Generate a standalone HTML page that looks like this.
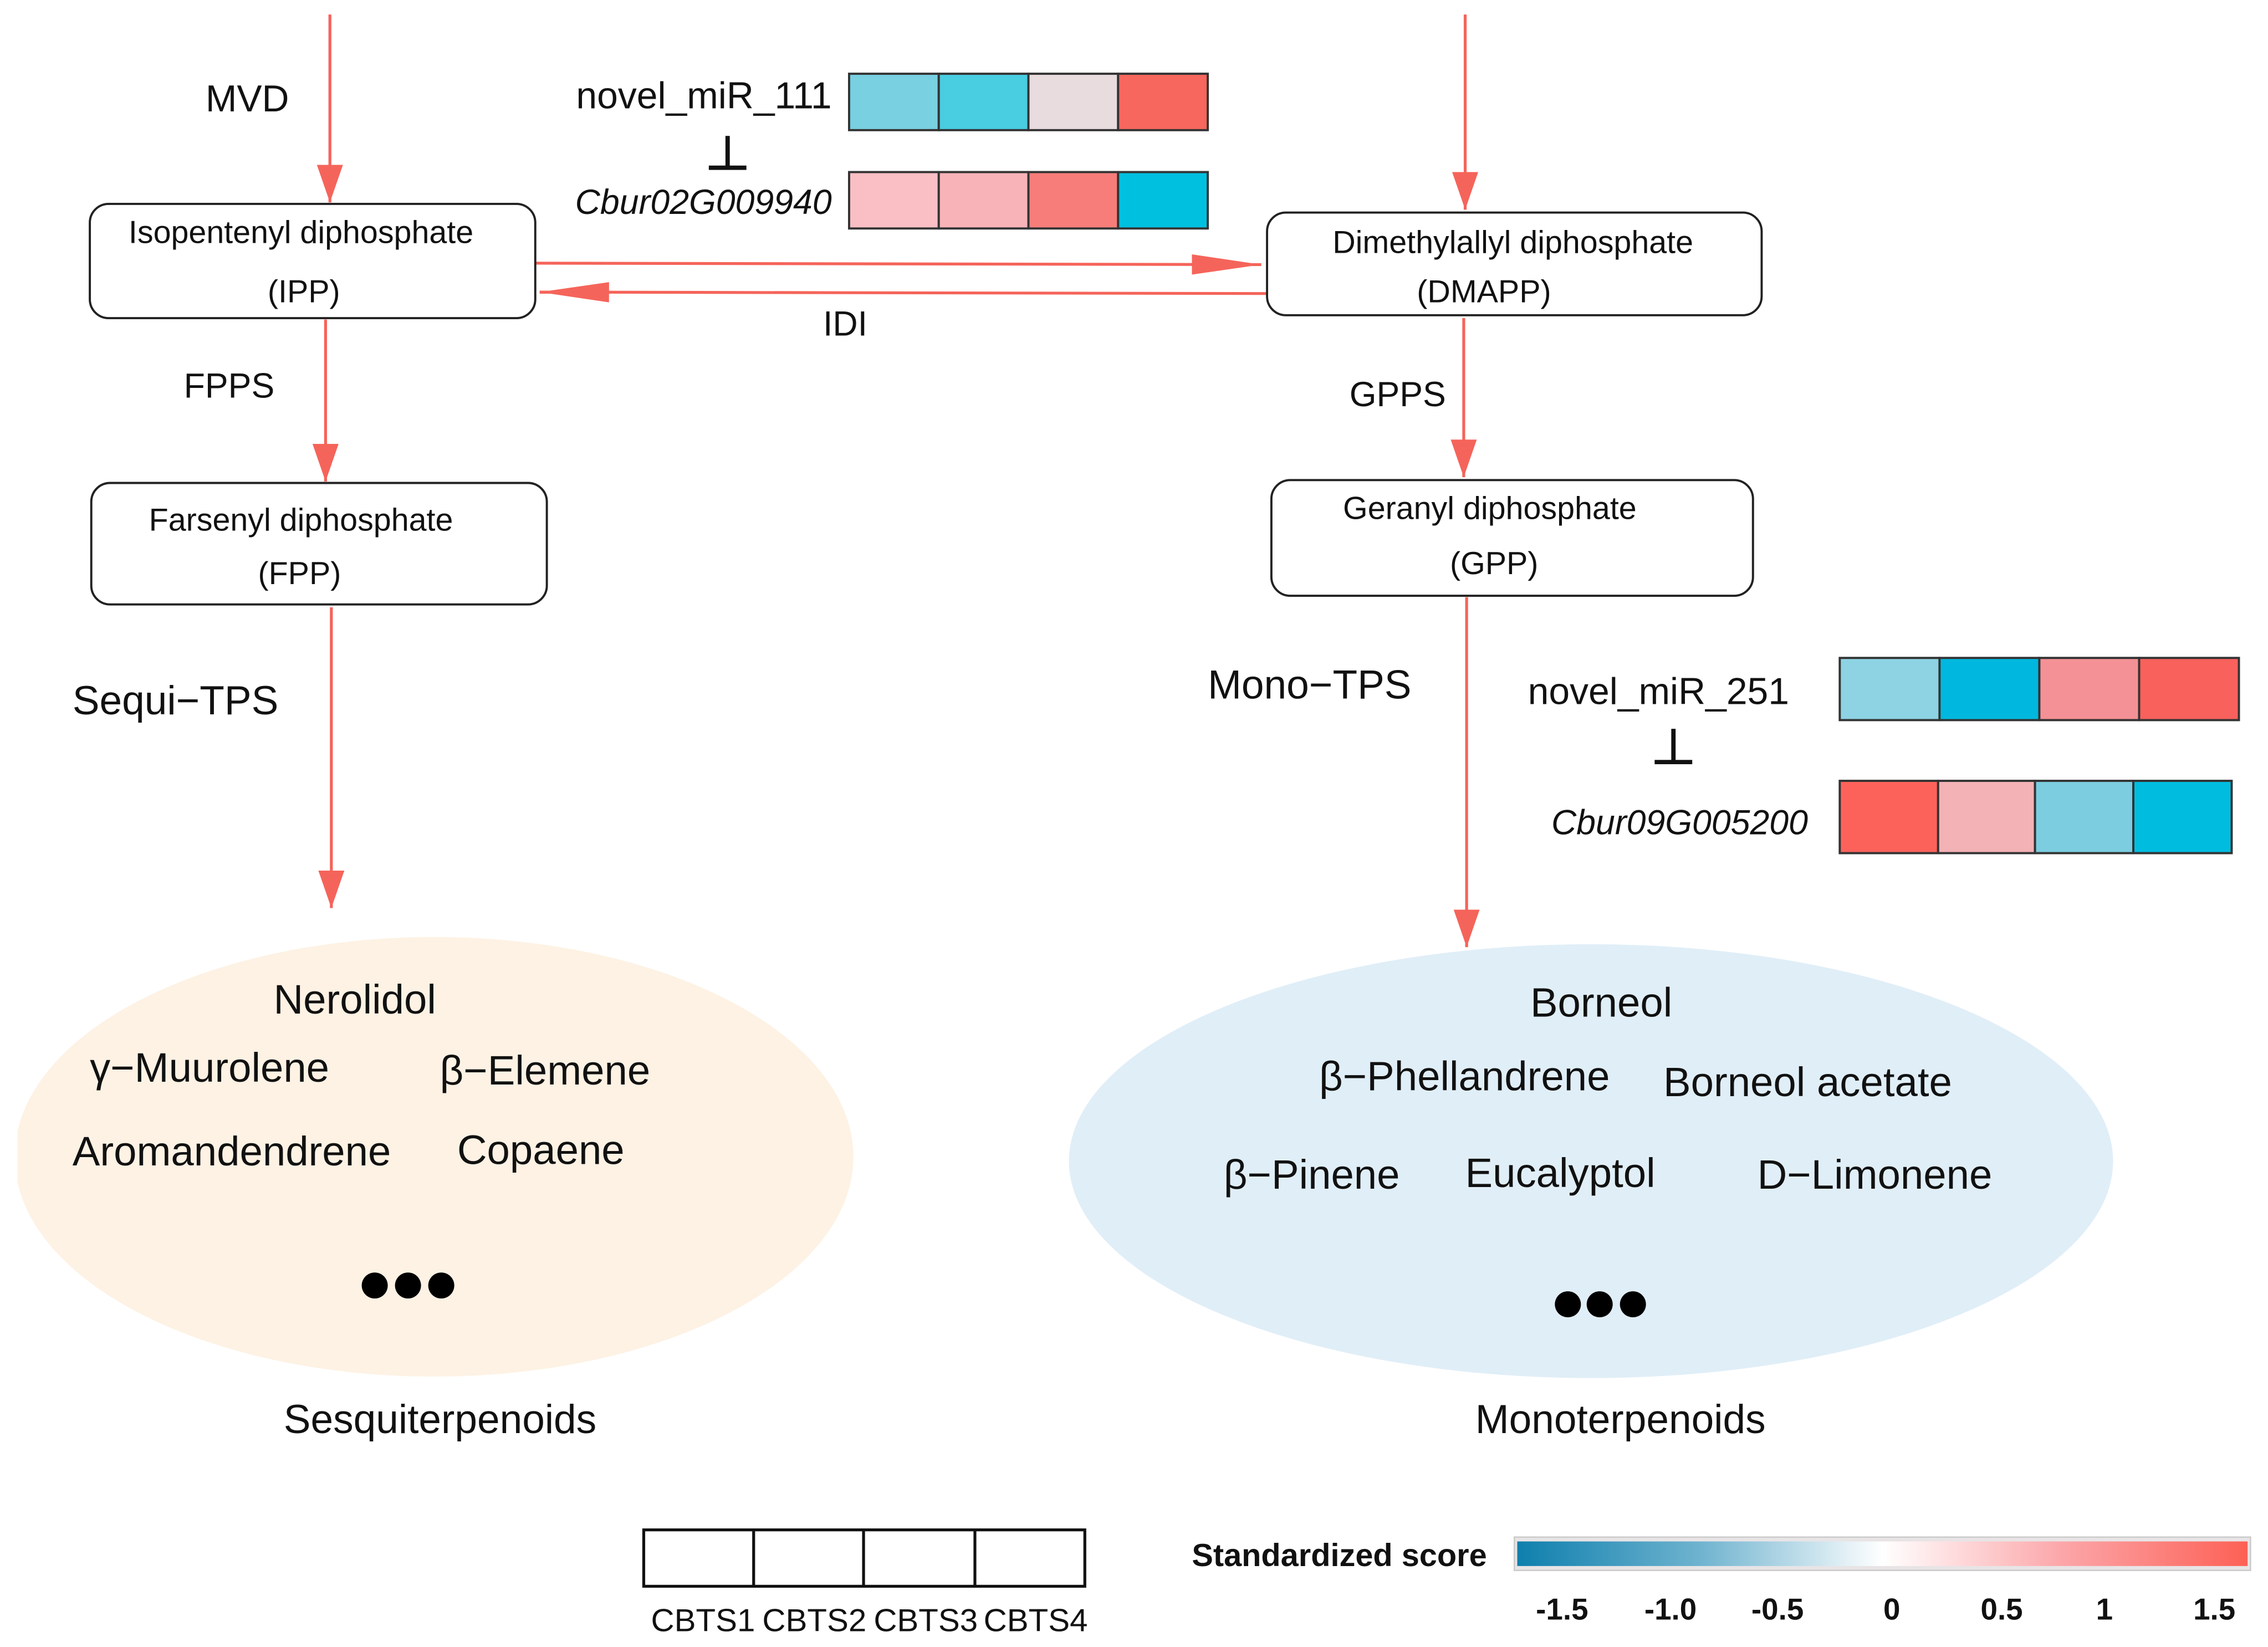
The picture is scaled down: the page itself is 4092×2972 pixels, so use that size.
<!DOCTYPE html>
<html><head><meta charset="utf-8"><style>
html,body{margin:0;padding:0;background:#fff;}
svg{display:block;}
text{font-family:"Liberation Sans",sans-serif;fill:#111;}
</style></head><body>
<svg width="4092" height="2972" viewBox="0 0 1568 1139" xmlns="http://www.w3.org/2000/svg">
<defs>
<marker id="ahv" markerWidth="26" markerHeight="18" refX="26" refY="9" orient="auto" markerUnits="userSpaceOnUse" viewBox="0 0 26 18">
<path d="M0,0 L26,9 L0,18 z" fill="#f5645a"/></marker>
<marker id="ahh" markerWidth="48" markerHeight="14" refX="48" refY="7" orient="auto" markerUnits="userSpaceOnUse" viewBox="0 0 48 14">
<path d="M0,0 L48,7 L0,14 z" fill="#f5645a"/></marker>
<linearGradient id="g" x1="0" x2="1" y1="0" y2="0">
<stop offset="0" stop-color="#0e7fad"/><stop offset="0.25" stop-color="#6fb3cf"/><stop offset="0.5" stop-color="#ffffff"/><stop offset="0.75" stop-color="#fca5a8"/><stop offset="1" stop-color="#fd6055"/>
</linearGradient>
<clipPath id="cl"><rect x="12" y="0" width="1556" height="1139"/></clipPath>
</defs>
<g stroke="#f5645a" stroke-width="2" fill="none">
<line x1="228" y1="10" x2="228" y2="140" marker-end="url(#ahv)"/>
<line x1="1013" y1="10" x2="1013" y2="145" marker-end="url(#ahv)"/>
<line x1="370" y1="182" x2="872" y2="183" marker-end="url(#ahh)"/>
<line x1="876" y1="203" x2="373" y2="202" marker-end="url(#ahh)"/>
<line x1="225" y1="221" x2="225" y2="333" marker-end="url(#ahv)"/>
<line x1="1012" y1="220" x2="1012" y2="330" marker-end="url(#ahv)"/>
<line x1="229" y1="420" x2="229" y2="628" marker-end="url(#ahv)"/>
<line x1="1014" y1="413" x2="1014" y2="655" marker-end="url(#ahv)"/>
</g>
<g fill="#fff" stroke="#222" stroke-width="1.5">
<rect x="62" y="141" width="308" height="79" rx="13"/>
<rect x="876" y="147" width="342" height="71" rx="13"/>
<rect x="63" y="334" width="315" height="84" rx="13"/>
<rect x="879" y="332" width="333" height="80" rx="13"/>
</g>
<g font-size="22" text-anchor="middle">
<text x="208" y="168">Isopentenyl diphosphate</text><text x="210" y="209">(IPP)</text>
<text x="1046" y="175">Dimethylallyl diphosphate</text><text x="1026" y="209">(DMAPP)</text>
<text x="208" y="367">Farsenyl diphosphate</text><text x="207" y="404">(FPP)</text>
<text x="1030" y="359">Geranyl diphosphate</text><text x="1033" y="397">(GPP)</text>
</g>
<g font-size="26">
<text x="142" y="77">MVD</text>
<text x="569" y="232" font-size="24">IDI</text>
<text x="127" y="275" font-size="24">FPPS</text>
<text x="933" y="281" font-size="24">GPPS</text>
<text x="50" y="494" font-size="28">Sequi−TPS</text>
<text x="835" y="483" font-size="28">Mono−TPS</text>
</g>
<g font-size="26" text-anchor="end">
<text x="575" y="75">novel_miR_111</text>
<text x="575" y="148" font-style="italic" font-size="24">Cbur02G009940</text>
<text x="1237" y="487">novel_miR_251</text>
<text x="1250" y="577" font-style="italic" font-size="24">Cbur09G005200</text>
</g>
<g stroke="#111" stroke-width="3">
<line x1="503" y1="94" x2="503" y2="116"/><line x1="490" y1="116" x2="516" y2="116"/>
<line x1="1157" y1="504" x2="1157" y2="527"/><line x1="1144" y1="527" x2="1170" y2="527"/>
</g>
<g stroke="#333" stroke-width="1.5">
<rect x="587" y="51" width="62" height="39" fill="#78d0e0"/><rect x="649" y="51" width="62" height="39" fill="#49cde0"/><rect x="711" y="51" width="62" height="39" fill="#e8dcdf"/><rect x="773" y="51" width="62" height="39" fill="#f7675d"/>
<rect x="587" y="119" width="62" height="39" fill="#f9bfc4"/><rect x="649" y="119" width="62" height="39" fill="#f8b3b8"/><rect x="711" y="119" width="62" height="39" fill="#f77d7a"/><rect x="773" y="119" width="62" height="39" fill="#00c0e0"/>
<rect x="1272" y="455" width="69" height="43" fill="#8dd3e3"/><rect x="1341" y="455" width="69" height="43" fill="#00b8df"/><rect x="1410" y="455" width="69" height="43" fill="#f49196"/><rect x="1479" y="455" width="69" height="43" fill="#f8615c"/>
<rect x="1272" y="540" width="68" height="50" fill="#fd625a"/><rect x="1340" y="540" width="67" height="50" fill="#f2b2b6"/><rect x="1407" y="540" width="68" height="50" fill="#7ccde0"/><rect x="1475" y="540" width="68" height="50" fill="#00bde0"/>
</g>
<ellipse cx="300" cy="800" rx="290" ry="152" fill="#fdf2e4" clip-path="url(#cl)"/>
<ellipse cx="1100" cy="803" rx="361" ry="150" fill="#e0eef7"/>
<g font-size="28.5">
<text x="189" y="701">Nerolidol</text>
<text x="62" y="748">γ−Muurolene</text>
<text x="304" y="750">β−Elemene</text>
<text x="50" y="806">Aromandendrene</text>
<text x="316" y="805">Copaene</text>
<text x="1058" y="703">Borneol</text>
<text x="912" y="754">β−Phellandrene</text>
<text x="1150" y="758">Borneol acetate</text>
<text x="846" y="822">β−Pinene</text>
<text x="1013" y="821">Eucalyptol</text>
<text x="1215" y="822">D−Limonene</text>
<text x="196" y="991" font-size="28">Sesquiterpenoids</text>
<text x="1020" y="991" font-size="28">Monoterpenoids</text>
</g>
<g fill="#000">
<circle cx="259" cy="889" r="9"/><circle cx="282" cy="889" r="9"/><circle cx="305" cy="889" r="9"/>
<circle cx="1084" cy="902" r="9"/><circle cx="1106" cy="902" r="9"/><circle cx="1129" cy="902" r="9"/>
</g>
<g stroke="#111" stroke-width="2" fill="none">
<rect x="445" y="1058" width="305" height="39"/>
<line x1="521" y1="1058" x2="521" y2="1097"/><line x1="597" y1="1058" x2="597" y2="1097"/><line x1="674" y1="1058" x2="674" y2="1097"/>
</g>
<g font-size="22" text-anchor="middle">
<text x="486" y="1128" textLength="72" lengthAdjust="spacingAndGlyphs">CBTS1</text>
<text x="563" y="1128" textLength="72" lengthAdjust="spacingAndGlyphs">CBTS2</text>
<text x="640" y="1128" textLength="72" lengthAdjust="spacingAndGlyphs">CBTS3</text>
<text x="716" y="1128" textLength="72" lengthAdjust="spacingAndGlyphs">CBTS4</text>
</g>
<text x="824" y="1083" font-size="22" font-weight="bold" textLength="204" lengthAdjust="spacingAndGlyphs">Standardized score</text>
<rect x="1047" y="1063" width="509" height="23" fill="#e8e4e6" stroke="#ccc"/>
<rect x="1049" y="1066" width="505" height="17" fill="url(#g)"/>
<g font-size="21" font-weight="bold" text-anchor="middle">
<text x="1080" y="1120">-1.5</text><text x="1155" y="1120">-1.0</text><text x="1229" y="1120">-0.5</text><text x="1308" y="1120">0</text><text x="1384" y="1120">0.5</text><text x="1455" y="1120">1</text><text x="1531" y="1120">1.5</text>
</g>
</svg>
</body></html>
